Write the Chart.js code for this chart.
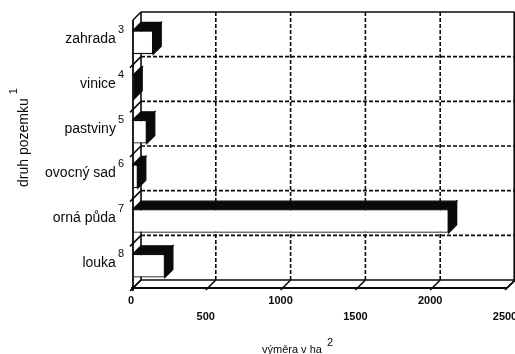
<!DOCTYPE html>
<html>
<head>
<meta charset="utf-8">
<script src="https://cdn.jsdelivr.net/npm/chart.js@4.4.0/dist/chart.umd.min.js"></script>
<style>
  body { margin: 0; background: #fff; }
  #landChart { display: block; }
</style>
</head>
<body>
<canvas id="landChart" width="515" height="354"></canvas>
<script>
// data
const categories = ["zahrada", "vinice", "pastviny", "ovocný sad", "orná půda", "louka"];
const noteMarks = ["3", "4", "5", "6", "7", "8"];
const areaHa = [135, 8, 92, 32, 2110, 213];
const xTicks = [0, 500, 1000, 1500, 2000, 2500];

const depth = 8; // 3d offset of back wall
const ink = "#0a0a0a";

function line(ctx, x1, y1, x2, y2) {
  ctx.beginPath();
  ctx.moveTo(x1, y1);
  ctx.lineTo(x2, y2);
  ctx.stroke();
}

// back wall, floor and grid
const frame3d = {
  id: "frame3d",
  beforeDatasetsDraw(chart) {
    const { ctx, chartArea: a, scales: { x } } = chart;
    const band = (a.bottom - a.top) / categories.length;
    ctx.save();
    ctx.strokeStyle = ink;
    ctx.lineWidth = 1.6;

    // dashed grid on back wall
    ctx.setLineDash([4, 2]);
    for (let i = 1; i < categories.length; i++) {
      const yy = a.top + band * i - depth;
      line(ctx, a.left + depth, yy, a.right + depth, yy);
    }
    xTicks.slice(1, -1).forEach(t => {
      const xx = x.getPixelForValue(t) + depth;
      line(ctx, xx, a.top - depth, xx, a.bottom - depth);
    });
    ctx.setLineDash([]);

    // back frame
    line(ctx, a.left + depth, a.top - depth, a.right + depth - 0.5, a.top - depth);
    line(ctx, a.right + depth - 0.8, a.top - depth, a.right + depth - 0.8, a.bottom - depth);
    line(ctx, a.left + depth, a.top - depth, a.left + depth, a.bottom - depth);
    line(ctx, a.left, a.top, a.left + depth, a.top - depth);
    // floor back edge and right slant
    line(ctx, a.left + depth, a.bottom - depth, a.right + depth, a.bottom - depth);
    line(ctx, a.right, a.bottom, a.right + depth, a.bottom - depth);

    // slashes on left wall at category boundaries
    for (let i = 1; i <= categories.length; i++) {
      const yy = a.top + band * i;
      line(ctx, a.left - 3, yy + 3, a.left + depth, yy - depth);
    }
    // slashes on floor at value ticks
    xTicks.forEach(t => {
      const xx = x.getPixelForValue(t);
      line(ctx, xx - 2, a.bottom + 2, xx + depth, a.bottom - depth);
    });
    ctx.restore();
  },
  afterDatasetsDraw(chart) {
    const { ctx, chartArea: a } = chart;
    const bars = chart.getDatasetMeta(0).data;
    ctx.save();
    ctx.fillStyle = ink;
    ctx.strokeStyle = ink;
    ctx.lineWidth = 1.3;
    bars.forEach(el => {
      const p = el.getProps(["x", "y", "base", "height"], true);
      const top = p.y - p.height / 2;
      const bottom = p.y + p.height / 2;
      // top face
      ctx.beginPath();
      ctx.moveTo(p.base, top);
      ctx.lineTo(p.base + depth, top - depth);
      ctx.lineTo(p.x + depth, top - depth);
      ctx.lineTo(p.x, top);
      ctx.closePath();
      ctx.fill();
      ctx.stroke();
      // side face
      ctx.beginPath();
      ctx.moveTo(p.x, top);
      ctx.lineTo(p.x + depth, top - depth);
      ctx.lineTo(p.x + depth, bottom - depth);
      ctx.lineTo(p.x, bottom);
      ctx.closePath();
      ctx.fill();
      ctx.stroke();
    });
    // front edges of the box
    ctx.lineWidth = 1.8;
    line(ctx, a.left, a.top, a.left, a.bottom + 3);
    line(ctx, a.left - 2, a.bottom, a.right, a.bottom);
    ctx.restore();
  },
  afterDraw(chart) {
    const { ctx, scales: { x, y } } = chart;
    ctx.save();
    ctx.fillStyle = ink;

    // category labels with footnote marks
    categories.forEach((c, i) => {
      const cy = y.getPixelForValue(i);
      ctx.font = "11px 'Liberation Sans', Arial, sans-serif";
      const supW = ctx.measureText(noteMarks[i]).width;
      const supX = 124 - supW;
      ctx.textAlign = "left";
      ctx.textBaseline = "alphabetic";
      ctx.fillText(noteMarks[i], supX, cy - 9);
      ctx.font = "14px 'Liberation Sans', Arial, sans-serif";
      ctx.textAlign = "right";
      ctx.fillText(c, supX - 2, cy + 1);
    });

    // value tick labels, staggered
    ctx.font = "bold 11px 'Liberation Sans', Arial, sans-serif";
    ctx.textAlign = "center";
    ctx.textBaseline = "middle";
    xTicks.forEach((t, i) => {
      const xx = x.getPixelForValue(t);
      ctx.fillText(String(t), xx - 2, i % 2 === 0 ? 301 : 317);
    });

    // x title
    ctx.textAlign = "left";
    ctx.textBaseline = "alphabetic";
    ctx.font = "11px 'Liberation Sans', Arial, sans-serif";
    const xTitle = "výměra v ha";
    ctx.fillText(xTitle, 262, 353);
    const tw = ctx.measureText(xTitle).width;
    ctx.font = "11px 'Liberation Sans', Arial, sans-serif";
    ctx.fillText("2", 262 + tw + 5, 346);

    // y title, rotated
    ctx.save();
    ctx.translate(28, 187);
    ctx.rotate(-Math.PI / 2);
    ctx.font = "14px 'Liberation Sans', Arial, sans-serif";
    const yTitle = "druh pozemku";
    ctx.fillText(yTitle, 0, 0);
    const yw = ctx.measureText(yTitle).width;
    ctx.font = "11px 'Liberation Sans', Arial, sans-serif";
    ctx.fillText("1", yw + 4, -11);
    ctx.restore();

    ctx.restore();
  }
};

const ctx = document.getElementById("landChart").getContext("2d");
const landChart = new Chart(ctx, {
  type: "bar",
  data: {
    labels: categories,
    datasets: [{
      label: "výměra v ha",
      data: areaHa,
      backgroundColor: "#fff",
      borderColor: ink,
      borderWidth: 1.3,
      barPercentage: 0.53,
      categoryPercentage: 1
    }]
  },
  options: {
    indexAxis: "y",
    responsive: false,
    animation: false,
    devicePixelRatio: 1,
    layout: { padding: { left: 133, right: 8, top: 20, bottom: 66 } },
    plugins: {
      legend: { display: false },
      tooltip: { enabled: false }
    },
    scales: {
      x: { display: false, min: 0, max: 2500 },
      y: { display: false }
    }
  },
  plugins: [frame3d]
});
</script>
</body>
</html>
